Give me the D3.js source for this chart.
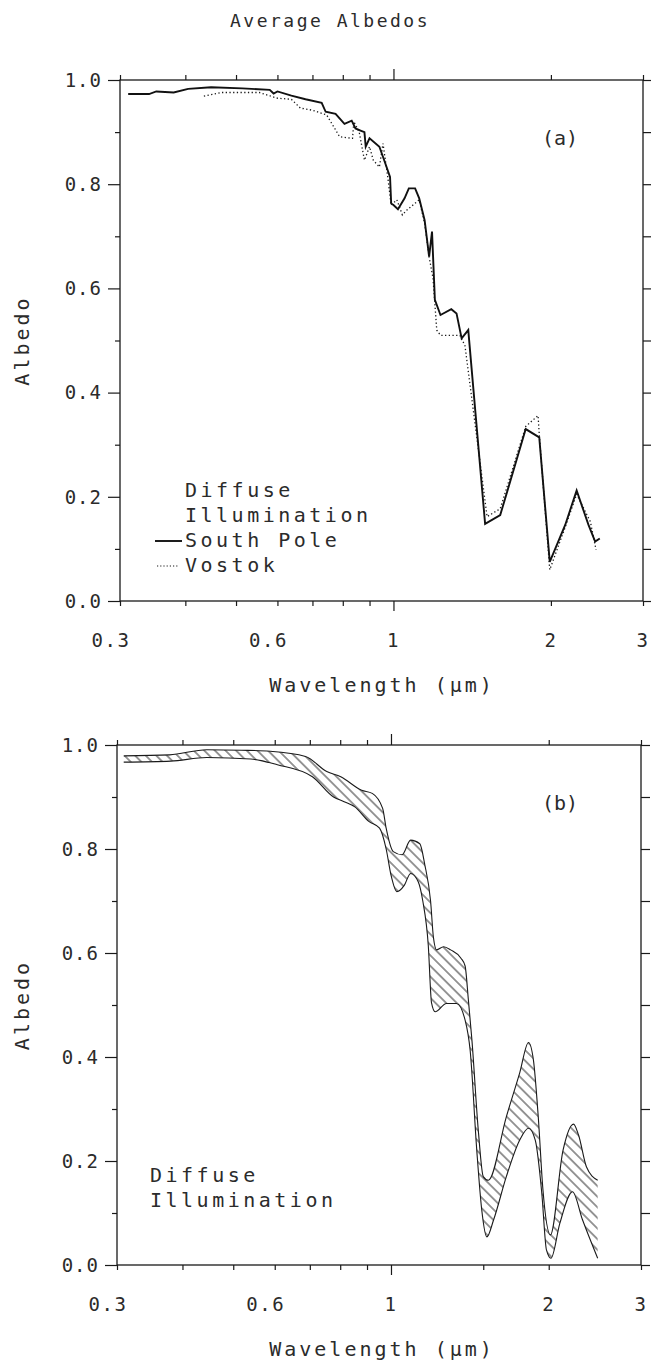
<!DOCTYPE html>
<html>
<head>
<meta charset="utf-8">
<script src="https://cdn.jsdelivr.net/npm/d3@7"></script>
<style>
  body { margin: 0; background: #fff; }
  text { font-family: "DejaVu Sans Mono", monospace; fill: #2b2b2b; }
</style>
</head>
<body>
<div class="chart"></div>
<script>
// ---- data ----
var titleText = "Average Albedos";
var xLabelText = "Wavelength (\u00b5m)";
var yLabelText = "Albedo";

var xMinorTicks = [0.3, 0.4, 0.5, 0.6, 0.7, 0.8, 0.9, 2, 3];
var xMajorTicks = [1];
var xLabelVals = [0.3, 0.6, 1, 2, 3];
var xLabelText2 = ["0.3", "0.6", "1", "2", "3"];
var yMajorTicks = [0, 0.2, 0.4, 0.6, 0.8, 1.0];
var yMinorTicks = [0.1, 0.3, 0.5, 0.7, 0.9];

// panel (a) South Pole (solid)
var spWl = [0.311, 0.341, 0.352, 0.380, 0.405, 0.448, 0.514, 0.580, 0.590, 0.600,
  0.638, 0.679, 0.729, 0.742, 0.775, 0.806, 0.832, 0.846, 0.865, 0.880,
  0.885, 0.900, 0.940, 0.960, 0.985, 0.990, 1.000, 1.020, 1.050, 1.070,
  1.100, 1.120, 1.147, 1.170, 1.185, 1.200, 1.230, 1.290, 1.320, 1.350,
  1.390, 1.497, 1.600, 1.790, 1.900, 1.990, 2.130, 2.240, 2.360, 2.430, 2.480];
var spAlb = [0.973, 0.973, 0.978, 0.976, 0.983, 0.986, 0.984, 0.981, 0.974, 0.978,
  0.970, 0.963, 0.956, 0.939, 0.935, 0.916, 0.922, 0.907, 0.903, 0.900,
  0.872, 0.888, 0.872, 0.846, 0.814, 0.763, 0.760, 0.752, 0.773, 0.792,
  0.792, 0.773, 0.731, 0.661, 0.709, 0.578, 0.549, 0.560, 0.552, 0.504,
  0.520, 0.148, 0.165, 0.330, 0.314, 0.075, 0.146, 0.212, 0.146, 0.114, 0.120];

// panel (a) Vostok (dotted)
var vsWl = [0.434, 0.469, 0.514, 0.554, 0.600, 0.638, 0.664, 0.700, 0.745, 0.769,
  0.789, 0.835, 0.840, 0.860, 0.880, 0.900, 0.915, 0.940, 0.955, 0.975,
  0.990, 1.015, 1.040, 1.060, 1.120, 1.147, 1.170, 1.190, 1.210, 1.230,
  1.340, 1.370, 1.510, 1.600, 1.790, 1.890, 1.900, 1.990, 2.120, 2.240, 2.380, 2.440];
var vsAlb = [0.969, 0.976, 0.976, 0.976, 0.965, 0.963, 0.946, 0.942, 0.933, 0.910,
  0.891, 0.888, 0.920, 0.900, 0.846, 0.872, 0.846, 0.833, 0.878, 0.814,
  0.760, 0.770, 0.741, 0.750, 0.770, 0.725, 0.660, 0.620, 0.520, 0.510,
  0.510, 0.490, 0.162, 0.177, 0.335, 0.356, 0.320, 0.060, 0.136, 0.205, 0.152, 0.098];

// panel (b) envelope, upper and lower edges
var upWl = [0.309, 0.378, 0.445, 0.519, 0.588, 0.687, 0.754, 0.802, 0.879, 0.921,
  0.964, 0.979, 1.010, 1.050, 1.090, 1.135, 1.160, 1.190, 1.205, 1.222,
  1.260, 1.300, 1.360, 1.385, 1.405, 1.427, 1.469, 1.500, 1.534, 1.660,
  1.760, 1.830, 1.870, 1.910, 1.950, 2.015, 2.130, 2.230, 2.280, 2.360, 2.480];
var upAlb = [0.979, 0.981, 0.991, 0.990, 0.988, 0.978, 0.949, 0.939, 0.913, 0.907,
  0.878, 0.840, 0.795, 0.789, 0.817, 0.810, 0.770, 0.700, 0.630, 0.606,
  0.612, 0.606, 0.590, 0.575, 0.510, 0.433, 0.254, 0.170, 0.163, 0.285,
  0.369, 0.428, 0.394, 0.285, 0.144, 0.058, 0.221, 0.271, 0.250, 0.189, 0.163];
var loWl = [0.309, 0.380, 0.445, 0.540, 0.607, 0.708, 0.777, 0.814, 0.853, 0.907,
  0.951, 0.979, 1.000, 1.026, 1.060, 1.090, 1.127, 1.150, 1.178, 1.195,
  1.214, 1.276, 1.334, 1.385, 1.416, 1.458, 1.490, 1.524, 1.570, 1.660,
  1.760, 1.830, 1.885, 1.940, 1.980, 2.020, 2.100, 2.220, 2.320, 2.480];
var loAlb = [0.967, 0.969, 0.976, 0.973, 0.962, 0.939, 0.900, 0.891, 0.881, 0.853,
  0.840, 0.800, 0.750, 0.718, 0.730, 0.753, 0.737, 0.700, 0.615, 0.504,
  0.487, 0.503, 0.503, 0.471, 0.413, 0.220, 0.106, 0.054, 0.087, 0.170,
  0.240, 0.263, 0.240, 0.138, 0.029, 0.013, 0.080, 0.141, 0.087, 0.013];

var legendA = ["Diffuse", "Illumination", "South Pole", "Vostok"];
var legendB = ["Diffuse", "Illumination"];

// ---- layout ----
var svgWidth = 651;
var svgHeight = 1366;

var svg = d3.select(".chart")
  .append("svg")
  .attr("width", svgWidth)
  .attr("height", svgHeight);

// diagonal "\" hatching for the envelope
svg.append("defs").append("pattern")
  .attr("id", "hatch")
  .attr("patternUnits", "userSpaceOnUse")
  .attr("width", 7.5)
  .attr("height", 7.5)
  .attr("patternTransform", "rotate(45)")
  .append("line")
  .attr("x1", 0).attr("y1", 3.75)
  .attr("x2", 7.5).attr("y2", 3.75)
  .attr("stroke", "#1a1a1a")
  .attr("stroke-width", 0.9);

svg.append("text")
  .attr("x", 330)
  .attr("y", 27)
  .attr("text-anchor", "middle")
  .attr("font-size", "18px")
  .attr("letter-spacing", "2.5px")
  .text(titleText);

function zip(a, b) {
  return a.map((v, i) => [v, b[i]]);
}

// draws frame, ticks, labels for one panel and returns its scales
function drawPanel(box, tag, xTicks15) {
  var x = d3.scaleLog().domain([0.3, 3]).range([box.left, box.right]);
  var y = d3.scaleLinear().domain([0, 1]).range([box.bottom, box.top]);
  var g = svg.append("g");

  function tickGroup(axis, tr) {
    var a = g.append("g").attr("transform", tr).call(axis);
    a.select(".domain").remove();
    a.selectAll("line").attr("stroke", "#1a1a1a").attr("stroke-width", 1.2);
    return a;
  }

  var minor = xMinorTicks.slice();
  var bottomMinor = xTicks15 ? minor.concat([1.5]) : minor;
  tickGroup(d3.axisBottom(x).tickValues(bottomMinor).tickSize(5).tickFormat(""), `translate(0,${box.bottom})`);
  tickGroup(d3.axisBottom(x).tickValues(xMajorTicks).tickSize(10).tickFormat(""), `translate(0,${box.bottom})`);
  tickGroup(d3.axisTop(x).tickValues(minor).tickSize(5).tickFormat(""), `translate(0,${box.top})`);
  tickGroup(d3.axisTop(x).tickValues(xMajorTicks).tickSize(11).tickFormat(""), `translate(0,${box.top})`);
  tickGroup(d3.axisLeft(y).tickValues(yMajorTicks).tickSize(12).tickFormat(""), `translate(${box.left},0)`);
  tickGroup(d3.axisLeft(y).tickValues(yMinorTicks).tickSize(5).tickFormat(""), `translate(${box.left},0)`);
  tickGroup(d3.axisRight(y).tickValues(yMajorTicks.concat(yMinorTicks)).tickSize(9).tickFormat(""), `translate(${box.right},0)`);

  // frame
  g.append("rect")
    .attr("x", box.left)
    .attr("y", box.top)
    .attr("width", box.right - box.left)
    .attr("height", box.bottom - box.top)
    .attr("fill", "none")
    .attr("stroke", "#1a1a1a")
    .attr("stroke-width", 1.3);

  // tick labels
  g.selectAll(".xlab")
    .data(xLabelVals)
    .enter()
    .append("text")
    .attr("x", (d, i) => x(d) + (xLabelText2[i].length > 1 ? -9 : 0))
    .attr("y", box.bottom + 46)
    .attr("text-anchor", "middle")
    .attr("font-size", "19px")
    .attr("letter-spacing", "1.5px")
    .text((d, i) => xLabelText2[i]);

  g.selectAll(".ylab")
    .data(yMajorTicks)
    .enter()
    .append("text")
    .attr("x", box.left - 18)
    .attr("y", d => y(d))
    .attr("dy", "0.36em")
    .attr("text-anchor", "end")
    .attr("font-size", "19px")
    .attr("letter-spacing", "1px")
    .text(d => d.toFixed(1));

  // axis titles
  g.append("text")
    .attr("x", 382)
    .attr("y", box.bottom + 91)
    .attr("text-anchor", "middle")
    .attr("font-size", "20px")
    .attr("letter-spacing", "3px")
    .text(xLabelText);

  g.append("text")
    .attr("transform", `translate(29, ${(box.top + box.bottom) / 2}) rotate(-90)`)
    .attr("text-anchor", "middle")
    .attr("font-size", "20px")
    .attr("letter-spacing", "3px")
    .text(yLabelText);

  g.append("text")
    .attr("x", 560)
    .attr("y", box.top + 65)
    .attr("text-anchor", "middle")
    .attr("font-size", "20px")
    .text(tag);

  return { x: x, y: y, g: g };
}

// ---- panel (a) ----
var boxA = { left: 120, right: 643, top: 80, bottom: 601 };
var pa = drawPanel(boxA, "(a)", false);

var lineA = d3.line()
  .x(d => pa.x(d[0]))
  .y(d => pa.y(d[1]));

pa.g.append("path")
  .datum(zip(vsWl, vsAlb))
  .attr("d", lineA)
  .attr("fill", "none")
  .attr("stroke", "#1a1a1a")
  .attr("stroke-width", 1.3)
  .attr("stroke-dasharray", "1.3,2.4");

pa.g.append("path")
  .datum(zip(spWl, spAlb))
  .attr("d", lineA)
  .attr("fill", "none")
  .attr("stroke", "#111")
  .attr("stroke-width", 1.9);

pa.g.selectAll(".leg")
  .data(legendA)
  .enter()
  .append("text")
  .attr("x", 185)
  .attr("y", (d, i) => 497 + i * 25)
  .attr("font-size", "20px")
  .attr("letter-spacing", "3.5px")
  .text(d => d);

pa.g.append("line")
  .attr("x1", 155).attr("x2", 182)
  .attr("y1", 541).attr("y2", 541)
  .attr("stroke", "#111").attr("stroke-width", 1.9);
pa.g.append("line")
  .attr("x1", 157).attr("x2", 178)
  .attr("y1", 566).attr("y2", 566)
  .attr("stroke", "#1a1a1a").attr("stroke-width", 1.2)
  .attr("stroke-dasharray", "1.2,2");

// ---- panel (b) ----
var boxB = { left: 117, right: 641, top: 745, bottom: 1265 };
var pb = drawPanel(boxB, "(b)", true);

var upPts = zip(upWl, upAlb);
var loPts = zip(loWl, loAlb);

var lineB = d3.line()
  .curve(d3.curveMonotoneX)
  .x(d => pb.x(d[0]))
  .y(d => pb.y(d[1]));

// band: upper edge then lower edge reversed
var bandPath = lineB(upPts) + "L" + lineB(loPts.slice().reverse()).slice(1) + "Z";

pb.g.append("path")
  .attr("d", bandPath)
  .attr("fill", "url(#hatch)")
  .attr("stroke", "none");

pb.g.append("path")
  .datum(upPts)
  .attr("d", lineB)
  .attr("fill", "none")
  .attr("stroke", "#1a1a1a")
  .attr("stroke-width", 1.1);

pb.g.append("path")
  .datum(loPts)
  .attr("d", lineB)
  .attr("fill", "none")
  .attr("stroke", "#1a1a1a")
  .attr("stroke-width", 1.1);

pb.g.selectAll(".leg")
  .data(legendB)
  .enter()
  .append("text")
  .attr("x", 150)
  .attr("y", (d, i) => 1182 + i * 25)
  .attr("font-size", "20px")
  .attr("letter-spacing", "3.5px")
  .text(d => d);
</script>
</body>
</html>
